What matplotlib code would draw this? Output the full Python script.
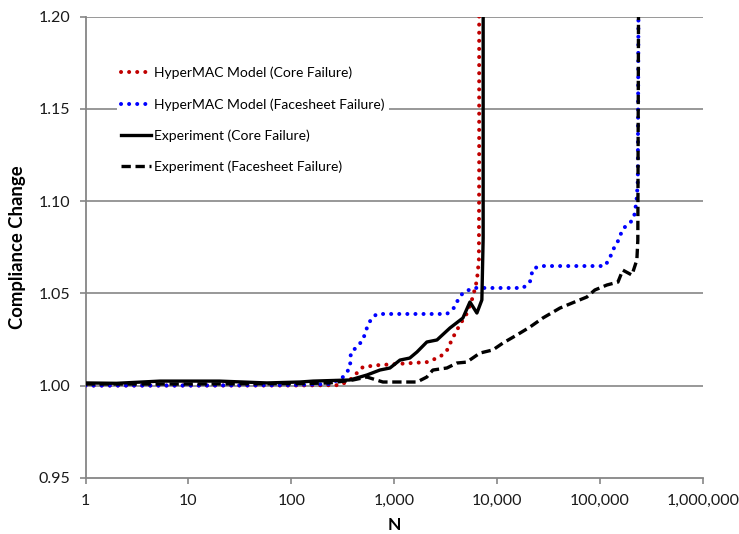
import matplotlib
matplotlib.use('Agg')
import matplotlib.pyplot as plt
from matplotlib.ticker import FuncFormatter, NullLocator

# HyperMAC model, core failure
red_n = [1, 10, 100, 300, 372, 497, 681, 2080, 2790, 3260, 3730, 4360, 5090, 5830, 6380, 6670, 6710, 6710]
red_c = [1.0000, 1.0000, 1.0000, 1.0002, 1.0030, 1.0100, 1.0110, 1.0127, 1.0155, 1.0190, 1.0260,
         1.0330, 1.0390, 1.0480, 1.0570, 1.0680, 1.1200, 1.2500]

# HyperMAC model, facesheet failure
blue_n = [1, 10, 100, 238, 318, 372, 380, 435, 497, 556, 608, 681, 3260, 3900, 4170, 4660, 5830,
          17900, 20900, 22300, 26100, 112000, 125000, 134000, 156000, 164000, 183000, 209000,
          219000, 229000, 234000, 239000]
blue_c = [1.0000, 1.0000, 1.0002, 1.0008, 1.0046, 1.0095, 1.0180, 1.0209, 1.0247, 1.0328, 1.0366,
          1.0388, 1.0388, 1.0426, 1.0464, 1.0502, 1.0529, 1.0529, 1.0561, 1.0632, 1.0648, 1.0648,
          1.0691, 1.0735, 1.0800, 1.0843, 1.0870, 1.0897, 1.0935, 1.1022, 1.1114, 1.2500]

# Experiment, core failure
core_n = [1, 2, 5.3, 20, 58, 121, 163, 372, 544, 728, 911, 1140, 1420, 1670, 2080, 2610, 3490,
          4660, 5460, 6380, 7130, 7340, 7340]
core_c = [1.0014, 1.0012, 1.0024, 1.0024, 1.0014, 1.0019, 1.0024, 1.0030, 1.0057, 1.0084, 1.0095,
          1.0138, 1.0149, 1.0182, 1.0236, 1.0247, 1.0312, 1.0366, 1.0453, 1.0393, 1.0464, 1.0800,
          1.2500]

# Experiment, facesheet failure
face_n = [1, 10, 121, 238, 398, 544, 778, 1670, 2080, 2380, 3260, 4080, 5090, 6820, 9120, 11400,
          15600, 20900, 27900, 40900, 59800, 74800, 89400, 117000, 150000, 167000, 205000, 229000,
          234000, 239000]
face_c = [1.0008, 1.0008, 1.0010, 1.0014, 1.0030, 1.0046, 1.0019, 1.0019, 1.0046, 1.0084, 1.0095,
          1.0122, 1.0127, 1.0176, 1.0193, 1.0230, 1.0274, 1.0317, 1.0366, 1.0420, 1.0458, 1.0480,
          1.0518, 1.0545, 1.0561, 1.0626, 1.0599, 1.0681, 1.0789, 1.2500]

labels = ['HyperMAC Model (Core Failure)', 'HyperMAC Model (Facesheet Failure)',
          'Experiment (Core Failure)', 'Experiment (Facesheet Failure)']
x_ticks = [1, 10, 100, 1000, 10000, 100000, 1000000]
y_ticks = [0.95, 1.00, 1.05, 1.10, 1.15, 1.20]

plt.rcParams['font.family'] = ['Lato', 'DejaVu Sans']

fig = plt.figure(figsize=(7.39, 5.34), dpi=100)
ax = fig.add_axes([0.1157, 0.1054, 0.8352, 0.8633])

grey = '#868686'
ax.plot(red_n, red_c, color='#c00000', lw=2.9, linestyle=(0, (0.01, 2.0)),
        dash_capstyle='round', label=labels[0], zorder=3)
ax.plot(blue_n, blue_c, color='#0000ff', lw=2.9, linestyle=(0, (0.01, 2.0)),
        dash_capstyle='round', label=labels[1], zorder=3)
ax.plot(core_n, core_c, color='black', lw=2.4, label=labels[2], zorder=4)
ax.plot(face_n, face_c, color='black', lw=2.4, linestyle=(0, (2.8, 1.4)),
        label=labels[3], zorder=4)

ax.set_xscale('log')
ax.set_xlim(1, 1e6)
ax.set_ylim(0.95, 1.20)
ax.set_xticks(x_ticks)
ax.xaxis.set_minor_locator(NullLocator())
ax.xaxis.set_major_formatter(FuncFormatter(lambda v, p: '{:,.0f}'.format(v)))
ax.set_yticks(y_ticks)
ax.yaxis.set_major_formatter(FuncFormatter(lambda v, p: '{:.2f}'.format(v)))

for y in y_ticks[1:]:
    ax.axhline(y, color=grey, lw=1.2, zorder=1)

for s in ['top', 'right']:
    ax.spines[s].set_visible(False)
for s in ['left', 'bottom']:
    ax.spines[s].set_color(grey)
    ax.spines[s].set_linewidth(1.3)
ax.tick_params(axis='both', direction='out', length=4, width=1.2, color=grey,
               labelsize=11.5, labelcolor='#1a1a1a')
ax.tick_params(axis='x', pad=8)
ax.tick_params(axis='y', pad=7)

ax.set_xlabel('N', fontsize=12.5, fontweight='bold', labelpad=6)
ax.set_ylabel('Compliance Change', fontsize=13.3, fontweight='bold', labelpad=9)

leg = ax.legend(loc='upper left', bbox_to_anchor=(116.5 / 739, 1 - 62.5 / 534),
                bbox_transform=fig.transFigure, frameon=True, fontsize=10,
                handlelength=2.2, handletextpad=0.2, labelspacing=1.35,
                borderpad=0.3, borderaxespad=0)
leg.get_frame().set_edgecolor('none')
leg.get_frame().set_facecolor('white')
leg.get_frame().set_alpha(1)
leg.set_zorder(5)

fig.savefig('out.png', dpi=100)
